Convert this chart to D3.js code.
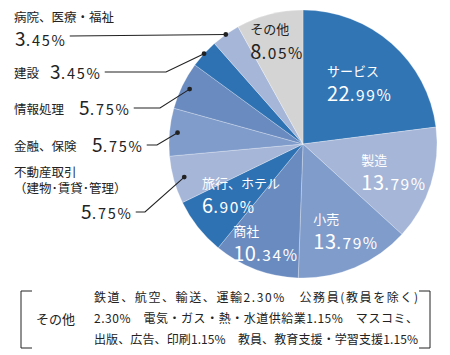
<!DOCTYPE html>
<html>
<head>
<meta charset="utf-8">
<script src="https://cdn.jsdelivr.net/npm/d3@7"></script>
<style>
  body { margin: 0; background: #fff; }
  svg text { font-family: "Noto Sans CJK JP", "Noto Sans", sans-serif; }
</style>
</head>
<body>
<svg id="chart"></svg>
<script>
// data
const categories = ['サービス', '製造', '小売', '商社', '旅行、ホテル', '不動産取引', '金融、保険', '情報処理', '建設', '病院、医療・福祉', 'その他']
const values = [22.99, 13.79, 13.79, 10.34, 6.90, 5.75, 5.75, 5.75, 3.45, 3.45, 8.05]
const colors = ['#3175b4', '#a5b6d8', '#7f9ccb', '#6a8bc0', '#2f72b3', '#a5b6d8', '#7f9ccb', '#6a8bc0', '#2f72b3', '#a5b6d8', '#d4d4d4']
const otherLines = [
  '鉄道、航空、輸送、運輸2.30%　公務員(教員を除く)',
  '2.30%　電気・ガス・熱・水道供給業1.15%　マスコミ、',
  '出版、広告、印刷1.15%　教員、教育支援・学習支援1.15%'
]

const svg = d3.select('#chart').attr('width', 450).attr('height', 355)
const cx = 303, cy = 144, R = 134

const g = svg.append('g').attr('transform', `translate(${cx},${cy})`)

const pie = d3.pie().sort(null).value(d => d)
const arcs = pie(values)
const arc = d3.arc().innerRadius(0).outerRadius(R)

g.selectAll('path')
  .data(arcs)
  .enter()
  .append('path')
  .attr('d', arc)
  .attr('fill', (d, i) => colors[i])
  .attr('stroke', 'rgba(255,255,255,0.45)')
  .attr('stroke-width', 0.6)

// percent text: integer part big, decimals smaller
function pct(sel, v, big, small, fill, ls) {
  const s = v.toFixed(2).split('.')
  sel.append('tspan').attr('font-size', big).attr('letter-spacing', 0.5).text(s[0])
  sel.append('tspan').attr('font-size', small).attr('letter-spacing', ls).text('.' + s[1] + '%')
  sel.attr('fill', fill)
}

// inside labels (index, radius factor)
const inside = [[0, 0.62], [1, 0.66], [2, 0.7], [3, 0.78], [4, 0.6], [10, 0.8]]
inside.forEach(([i, f]) => {
  const a = arcs[i]
  const mid = (a.startAngle + a.endAngle) / 2
  const p = d3.arc().innerRadius(R * f).outerRadius(R * f).centroid({startAngle: mid, endAngle: mid})
  const fill = i === 10 ? '#222' : '#fff'
  const left = p[0] - (i === 4 ? 38 : i === 3 ? 33 : i === 0 ? 31 : 26)
  g.append('text')
    .attr('x', left).attr('y', p[1] - 6)
    .attr('font-size', 13).attr('fill', fill)
    .text(categories[i])
  const t = g.append('text').attr('x', left).attr('y', p[1] + 19)
  pct(t, values[i], 20, 15.5, fill, 1.6)
})

// outer labels with leader lines
const outer = [
  {i: 9, f: 1.0, name: ['病院、医療・福祉'], ny: 22, py: 46, px: 15, ly: 36},
  {i: 8, f: 1.0, name: ['建設'], ny: 78, py: 79, px: 50, ly: 72, ex: 166},
  {i: 7, f: 0.94, name: ['情報処理'], ny: 114, py: 115, px: 79, ly: 108, ex: 160},
  {i: 6, f: 0.94, name: ['金融、保険'], ny: 151, py: 152, px: 92, ly: 145, ex: 157},
  {i: 5, f: 0.92, name: ['不動産取引', '（建物･賃貸･管理）'], ny: 177, py: 219, px: 81, ly: 212, ex: 145}
]

outer.forEach(o => {
  const a = arcs[o.i]
  const mid = (a.startAngle + a.endAngle) / 2
  const p = d3.arc().innerRadius(R * o.f).outerRadius(R * o.f).centroid({startAngle: mid, endAngle: mid})
  const dot = [p[0] + cx, p[1] + cy]

  const nt = svg.append('text')
    .attr('y', o.ny)
    .attr('font-size', 12.5).attr('fill', '#222')
  o.name.forEach((n, k) => {
    nt.append('tspan')
      .attr('x', 14).attr('dy', k === 0 ? 0 : 15.5)
      .text(n)
  })
  const t = svg.append('text').attr('x', o.px).attr('y', o.py)
  pct(t, values[o.i], 19, 14.5, '#222', 1.8)
  const end = o.px + t.node().getComputedTextLength() + 3

  const pts = o.ex ? [[end, o.ly], [o.ex, o.ly], dot] : [[end, o.ly], dot]
  svg.append('path')
    .attr('d', d3.line()(pts))
    .attr('fill', 'none')
    .attr('stroke', '#222')
    .attr('stroke-width', 1.1)
  svg.append('circle')
    .attr('cx', dot[0]).attr('cy', dot[1]).attr('r', 2.4)
    .attr('fill', '#222')
})

// "その他" breakdown box
const box = svg.append('g')
const bTop = 291, bBot = 348, bl = 21, br = 430
box.append('path')
  .attr('d', d3.line()([[bl + 11, bTop], [bl, bTop], [bl, bBot], [bl + 11, bBot]]))
  .attr('fill', 'none').attr('stroke', '#222').attr('stroke-width', 1)
box.append('path')
  .attr('d', d3.line()([[br - 11, bTop], [br, bTop], [br, bBot], [br - 11, bBot]]))
  .attr('fill', 'none').attr('stroke', '#222').attr('stroke-width', 1)
box.append('text')
  .attr('x', 36).attr('y', 324)
  .attr('font-size', 13).attr('fill', '#222')
  .text('その他')
otherLines.forEach((s, k) => {
  box.append('text')
    .attr('x', 94).attr('y', 302 + k * 21)
    .attr('font-size', 12).attr('fill', '#222')
    .attr('textLength', 324)
    .attr('lengthAdjust', 'spacing')
    .text(s)
})
</script>
</body>
</html>
